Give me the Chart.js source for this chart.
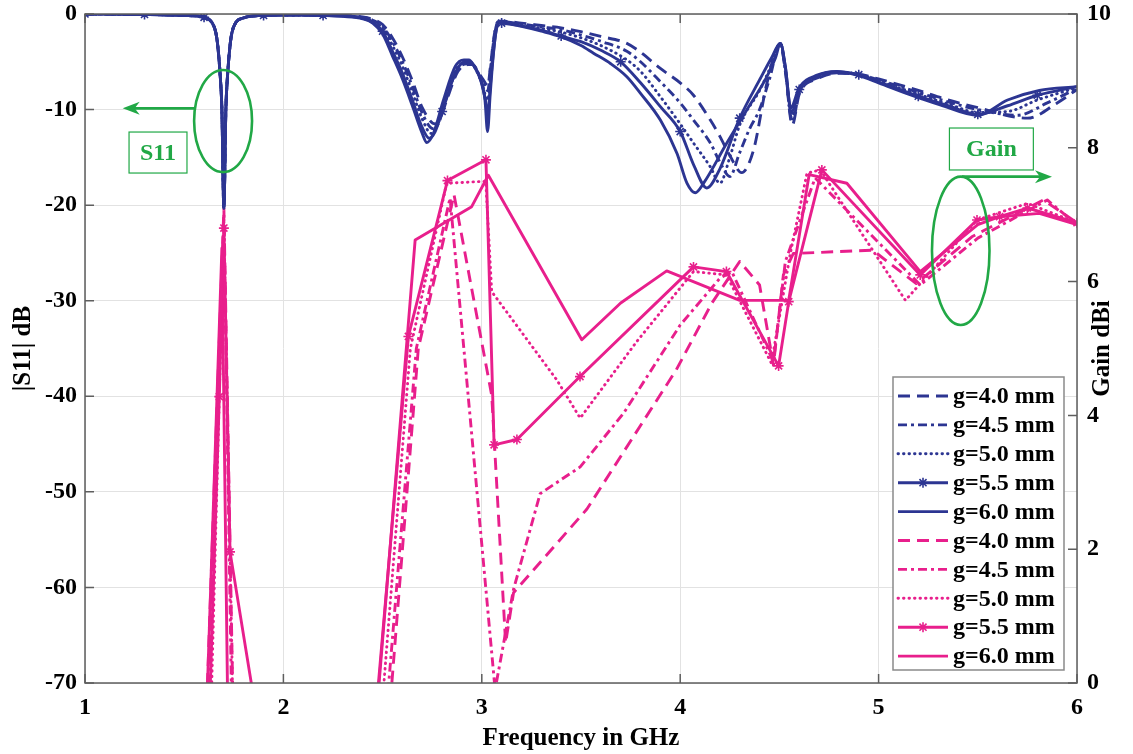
<!DOCTYPE html>
<html>
<head>
<meta charset="utf-8">
<script src="https://cdn.jsdelivr.net/npm/chart.js@4.4.1/dist/chart.umd.min.js"></script>
<style>
html,body{margin:0;padding:0;background:#ffffff;}
#wrap{width:1133px;height:754px;position:relative;}
</style>
</head>
<body>
<div id="wrap"><canvas id="c"></canvas></div>
<script>
// ---------------- DATA ----------------
const xTicks = [1, 2, 3, 4, 5, 6];
const s11Ticks = [0, -10, -20, -30, -40, -50, -60, -70];
const gainTicks = [0, 2, 4, 6, 8, 10];
const seriesLabels = ['g=4.0 mm', 'g=4.5 mm', 'g=5.0 mm', 'g=5.5 mm', 'g=6.0 mm'];
const xTitle = 'Frequency in GHz';
const s11Title = '|S11| dB';
const gainTitle = 'Gain dBi';

// shared low-band notch of |S11| (GHz, dB)
const notchF  = [1.0, 1.3, 1.5, 1.6, 1.64, 1.66, 1.67, 1.68, 1.69, 1.70, 1.71, 1.72, 1.73, 1.74, 1.76, 1.8, 1.9, 2.0, 2.1, 2.2];
const notchDb = [0, -0.05, -0.15, -0.35, -0.9, -2.0, -3.5, -6.0, -10.0, -20.3, -10.0, -6.0, -3.5, -2.0, -0.9, -0.4, -0.15, -0.1, -0.1, -0.15];

// |S11| above 2.2 GHz per gap g
const s11F_40 = [2.3, 2.4, 2.45, 2.5, 2.55, 2.6, 2.65, 2.7, 2.765, 2.79, 2.82, 2.88, 2.93, 2.955, 2.98, 3.005, 3.03, 3.045, 3.06, 3.075, 3.09, 3.1, 3.2, 3.3, 3.4, 3.5, 3.6, 3.731, 3.8, 3.9, 4.0, 4.067, 4.152, 4.2, 4.25, 4.31, 4.37, 4.437, 4.505, 4.53, 4.565, 4.6, 4.69, 4.79, 4.9, 5.0, 5.2, 5.35, 5.5, 5.75, 5.9, 6.0];
const s11D_40 = [-0.15, -0.3, -0.55, -1.1, -2.5, -4.5, -7.0, -9.8, -11.5, -11.0, -9.2, -6.0, -5.3, -5.3, -6.0, -6.8, -7.5, -5.2, -2.6, -1.0, -0.75, -0.75, -0.95, -1.2, -1.45, -1.85, -2.35, -3.07, -4.0, -5.7, -7.2, -8.5, -11.1, -12.8, -14.8, -16.6, -14.2, -7.25, -3.07, -6.0, -11.6, -8.4, -6.8, -6.2, -6.3, -6.8, -8.0, -9.0, -9.8, -10.9, -9.3, -7.9];

const s11F_45 = [2.3, 2.4, 2.45, 2.5, 2.55, 2.6, 2.65, 2.7, 2.755, 2.785, 2.815, 2.875, 2.925, 2.95, 2.975, 3.0, 3.03, 3.045, 3.06, 3.075, 3.09, 3.1, 3.2, 3.3, 3.4, 3.5, 3.6, 3.731, 3.8, 3.9, 4.0, 4.067, 4.152, 4.2, 4.25, 4.3, 4.35, 4.4, 4.45, 4.505, 4.53, 4.565, 4.6, 4.69, 4.79, 4.9, 5.0, 5.2, 5.35, 5.5, 5.7, 5.85, 6.0];
const s11D_45 = [-0.18, -0.35, -0.65, -1.3, -2.9, -5.0, -7.6, -10.4, -12.0, -11.3, -9.2, -5.9, -5.2, -5.2, -5.9, -7.0, -8.0, -5.5, -2.8, -1.1, -0.8, -0.8, -1.05, -1.35, -1.65, -2.2, -2.85, -3.9, -5.0, -7.08, -9.3, -11.1, -13.5, -15.5, -17.0, -14.5, -12.0, -10.0, -6.8, -3.07, -5.9, -11.3, -8.2, -6.7, -6.15, -6.3, -6.9, -8.2, -9.2, -10.0, -10.6, -9.3, -7.8];

const s11F_50 = [2.3, 2.4, 2.45, 2.5, 2.55, 2.6, 2.65, 2.7, 2.745, 2.775, 2.81, 2.87, 2.92, 2.945, 2.97, 3.0, 3.03, 3.045, 3.06, 3.075, 3.09, 3.1, 3.2, 3.3, 3.4, 3.5, 3.6, 3.731, 3.8, 3.9, 4.0, 4.067, 4.152, 4.2, 4.25, 4.3, 4.4, 4.45, 4.505, 4.53, 4.56, 4.6, 4.69, 4.79, 4.9, 5.0, 5.2, 5.35, 5.5, 5.65, 5.8, 6.0];
const s11D_50 = [-0.2, -0.4, -0.75, -1.5, -3.3, -5.5, -8.2, -11.0, -12.5, -11.6, -9.2, -5.8, -5.1, -5.1, -5.8, -7.2, -9.0, -6.0, -3.0, -1.2, -0.85, -0.85, -1.15, -1.5, -1.9, -2.5, -3.3, -4.8, -6.0, -8.65, -11.5, -13.5, -16.0, -17.7, -15.0, -11.6, -8.0, -5.8, -3.07, -5.8, -10.8, -8.0, -6.6, -6.1, -6.3, -7.0, -8.4, -9.4, -10.3, -10.2, -9.0, -7.7];

const s11F_55 = [2.3, 2.4, 2.45, 2.5, 2.55, 2.6, 2.65, 2.7, 2.735, 2.765, 2.8, 2.815, 2.87, 2.915, 2.94, 2.965, 2.995, 3.018, 3.03, 3.043, 3.056, 3.072, 3.087, 3.1, 3.2, 3.3, 3.4, 3.5, 3.6, 3.7, 3.8, 3.9, 4.0, 4.07, 4.134, 4.2, 4.3, 4.4, 4.46, 4.505, 4.53, 4.56, 4.6, 4.69, 4.79, 4.9, 5.0, 5.2, 5.35, 5.5, 5.65, 5.8, 6.0];
const s11D_55 = [-0.22, -0.45, -0.85, -1.8, -3.9, -6.2, -9.0, -11.9, -13.0, -12.3, -10.2, -9.3, -6.0, -5.0, -5.0, -5.6, -7.0, -9.0, -10.5, -7.5, -4.5, -1.8, -0.9, -0.95, -1.25, -1.7, -2.3, -2.9, -3.8, -5.0, -7.2, -9.7, -12.3, -15.9, -18.2, -16.2, -10.9, -6.9, -4.6, -3.07, -5.6, -10.3, -7.9, -6.5, -6.05, -6.35, -7.1, -8.6, -9.6, -10.5, -9.6, -8.5, -7.6];

const s11F_60 = [2.3, 2.4, 2.45, 2.5, 2.55, 2.6, 2.65, 2.7, 2.723, 2.756, 2.807, 2.866, 2.91, 2.935, 2.96, 2.99, 3.016, 3.029, 3.042, 3.055, 3.07, 3.085, 3.1, 3.2, 3.3, 3.4, 3.5, 3.563, 3.65, 3.731, 3.8, 3.9, 3.984, 4.034, 4.076, 4.118, 4.235, 4.337, 4.437, 4.48, 4.505, 4.53, 4.557, 4.6, 4.69, 4.79, 4.89, 5.0, 5.14, 5.31, 5.5, 5.65, 5.81, 6.0];
const s11D_60 = [-0.25, -0.5, -0.95, -2.1, -4.4, -6.8, -9.6, -12.5, -13.45, -12.5, -9.0, -5.5, -4.8, -4.8, -5.4, -6.6, -9.0, -12.3, -8.5, -5.0, -2.0, -0.9, -0.9, -1.3, -1.8, -2.4, -3.3, -4.1, -5.2, -6.56, -8.3, -11.1, -14.6, -17.7, -18.7, -17.7, -13.5, -10.0, -6.56, -4.6, -3.07, -5.5, -9.8, -7.7, -6.4, -6.0, -6.4, -7.2, -8.3, -9.5, -10.6, -9.0, -8.0, -7.6];

// frequencies carrying the star markers of the g=5.5 mm |S11| curve
const s11StarF = [1.0, 1.3, 1.6, 1.9, 2.2, 2.5, 2.8, 3.1, 3.4, 3.7, 4.0, 4.3, 4.6, 4.9, 5.2, 5.5, 5.8];

// Gain (dBi) per gap g, coarse samples
const gainF_40 = [1.0, 1.6, 1.70, 1.75, 2.0, 2.44, 2.68, 2.86, 3.05, 3.12, 3.16, 3.53, 3.98, 4.16, 4.30, 4.40, 4.47, 4.52, 4.57, 4.97, 5.19, 5.47, 5.83, 6.0];
const gainV_40 = [-5, -1.5, 7.1, -1.0, -6, -4, 5.0, 7.3, 4.3, 0.6, 1.35, 2.6, 4.68, 5.68, 6.3, 5.95, 4.75, 6.1, 6.42, 6.47, 5.97, 6.67, 7.22, 6.88];

const gainF_45 = [1.0, 1.61, 1.70, 1.74, 2.0, 2.42, 2.67, 2.84, 3.067, 3.16, 3.294, 3.496, 3.714, 4.0, 4.2, 4.26, 4.47, 4.53, 4.68, 5.21, 5.5, 5.85, 6.0];
const gainV_45 = [-5, -1.0, 7.0, -0.5, -6, -4, 5.0, 7.25, -0.1, 1.4, 2.83, 3.23, 4.03, 5.35, 6.05, 6.15, 4.8, 6.3, 7.55, 5.95, 6.65, 7.22, 6.85];

const gainF_50 = [1.0, 1.63, 1.70, 1.745, 2.0, 2.40, 2.64, 2.823, 3.02, 3.05, 3.378, 3.496, 3.78, 4.067, 4.233, 4.46, 4.555, 4.639, 4.706, 5.135, 5.496, 5.75, 6.0];
const gainV_50 = [-5, -1.0, 6.9, -0.3, -6, -4, 5.0, 7.47, 7.5, 5.85, 4.53, 3.96, 5.1, 6.15, 6.1, 4.78, 6.42, 7.62, 7.67, 5.72, 6.92, 7.17, 6.88];

const gainF_55 = [1.0, 1.60, 1.677, 1.70, 1.731, 1.86, 2.0, 2.45, 2.63, 2.827, 3.021, 3.062, 3.177, 3.495, 4.067, 4.233, 4.496, 4.547, 4.714, 5.21, 5.496, 5.61, 5.75, 6.0];
const gainV_55 = [-5, -3.0, 4.28, 6.8, 1.96, -0.4, -6, -1.0, 5.18, 7.51, 7.82, 3.56, 3.64, 4.58, 6.22, 6.15, 4.74, 5.70, 7.67, 6.10, 6.92, 6.97, 7.1, 6.88];

const gainF_60 = [1.0, 1.60, 1.69, 1.72, 2.0, 2.4, 2.664, 2.949, 3.033, 3.504, 3.70, 3.932, 4.30, 4.547, 4.65, 4.84, 5.21, 5.50, 5.61, 5.81, 6.0];
const gainV_60 = [-5, -1.6, 6.5, -0.5, -6, -3.0, 6.62, 7.12, 7.59, 5.13, 5.68, 6.16, 5.72, 5.72, 7.6, 7.47, 6.15, 6.85, 6.97, 7.02, 6.85];

// ---------------- STYLE ----------------
const BLUE = '#2c3592';
const PINK = '#e81f8c';
const GREEN = '#21a846';
const AXIS = '#5e5e5e';
const FONT = "'Liberation Serif','Times New Roman',serif";
const LW = 2.9;
const dashes = [[12, 7], [9, 4, 3, 4], [0.5, 5], [], []];
const caps = ['butt', 'butt', 'round', 'butt', 'butt'];

const pts = (f, v) => f.map((x, i) => ({x: x, y: v[i]}));

const s11Sets = [[s11F_40, s11D_40], [s11F_45, s11D_45], [s11F_50, s11D_50], [s11F_55, s11D_55], [s11F_60, s11D_60]];
const gainSets = [[gainF_40, gainV_40], [gainF_45, gainV_45], [gainF_50, gainV_50], [gainF_55, gainV_55], [gainF_60, gainV_60]];

const datasets = [];
s11Sets.forEach((s, i) => {
  const star = i === 3;
  datasets.push({
    label: seriesLabels[i],
    data: pts(notchF.concat(s[0]), notchDb.concat(s[1])),
    yAxisID: 'y',
    borderColor: BLUE, backgroundColor: BLUE,
    borderWidth: LW, borderDash: dashes[i], borderCapStyle: caps[i], borderJoinStyle: 'round',
    cubicInterpolationMode: 'monotone',
    pointStyle: 'star',
    pointRadius: star ? (ctx => (ctx.raw && s11StarF.includes(ctx.raw.x)) ? 5 : 0) : 0,
    pointBorderColor: BLUE, pointBorderWidth: 1.6, pointHoverRadius: 0,
    _star: star
  });
});
gainSets.forEach((s, i) => {
  const star = i === 3;
  datasets.push({
    label: seriesLabels[i],
    data: pts(s[0], s[1]),
    yAxisID: 'y1',
    borderColor: PINK, backgroundColor: PINK,
    borderWidth: LW, borderDash: dashes[i], borderCapStyle: caps[i], borderJoinStyle: 'round',
    tension: 0,
    pointStyle: 'star',
    pointRadius: star ? 5 : 0,
    pointBorderColor: PINK, pointBorderWidth: 1.6, pointHoverRadius: 0,
    _star: star
  });
});

// annotation anchors in data units (x: GHz, y: |S11| dB)
const notes = [
  {text: 'S11', ell: [1.696, -11.2, 0.146, 5.34], arrow: [1.55, 1.19, -9.87], box: [1.222, 1.514, -12.35, -16.64]},
  {text: 'Gain', ell: [5.414, -24.78, 0.145, 7.76], arrow: [5.42, 5.874, -17.02], box: [5.357, 5.78, -11.93, -16.32]}
];

function drawStar(ctx, x, y, r) {
  ctx.beginPath();
  for (let k = 0; k < 4; k++) {
    const a = k * Math.PI / 4;
    ctx.moveTo(x - r * Math.cos(a), y - r * Math.sin(a));
    ctx.lineTo(x + r * Math.cos(a), y + r * Math.sin(a));
  }
  ctx.stroke();
}

const overlay = {
  id: 'overlay',
  afterDatasetsDraw(chart) {
    const {ctx, chartArea: a, scales} = chart;
    const xs = scales.x, ys = scales.y, y1 = scales.y1;
    ctx.save();
    // box + inward ticks
    ctx.strokeStyle = AXIS; ctx.lineWidth = 1.5; ctx.setLineDash([]);
    ctx.strokeRect(a.left, a.top, a.right - a.left, a.bottom - a.top);
    ctx.beginPath();
    xTicks.forEach(v => { const p = xs.getPixelForValue(v); ctx.moveTo(p, a.bottom); ctx.lineTo(p, a.bottom - 9); ctx.moveTo(p, a.top); ctx.lineTo(p, a.top + 9); });
    s11Ticks.forEach(v => { const p = ys.getPixelForValue(v); ctx.moveTo(a.left, p); ctx.lineTo(a.left + 9, p); });
    gainTicks.forEach(v => { const p = y1.getPixelForValue(v); ctx.moveTo(a.right, p); ctx.lineTo(a.right - 9, p); });
    ctx.stroke();

    // annotations
    ctx.strokeStyle = GREEN; ctx.fillStyle = GREEN;
    notes.forEach(n => {
      const cx = xs.getPixelForValue(n.ell[0]), cy = ys.getPixelForValue(n.ell[1]);
      const rx = Math.abs(xs.getPixelForValue(n.ell[0] + n.ell[2]) - cx);
      const ry = Math.abs(ys.getPixelForValue(n.ell[1] + n.ell[3]) - cy);
      ctx.lineWidth = 2.6;
      ctx.beginPath(); ctx.ellipse(cx, cy, rx, ry, 0, 0, Math.PI * 2); ctx.stroke();
      const ax0 = xs.getPixelForValue(n.arrow[0]), ax1 = xs.getPixelForValue(n.arrow[1]), ay = ys.getPixelForValue(n.arrow[2]);
      const dir = Math.sign(ax1 - ax0);
      ctx.beginPath(); ctx.moveTo(ax0, ay); ctx.lineTo(ax1 - dir * 8, ay); ctx.stroke();
      ctx.beginPath(); ctx.moveTo(ax1, ay); ctx.lineTo(ax1 - dir * 17, ay - 6.5); ctx.lineTo(ax1 - dir * 12, ay); ctx.lineTo(ax1 - dir * 17, ay + 6.5); ctx.closePath(); ctx.fill();
      const bx0 = xs.getPixelForValue(n.box[0]), bx1 = xs.getPixelForValue(n.box[1]);
      const by0 = ys.getPixelForValue(n.box[2]), by1 = ys.getPixelForValue(n.box[3]);
      ctx.lineWidth = 1.2;
      ctx.strokeRect(bx0, by0, bx1 - bx0, by1 - by0);
      ctx.font = 'bold 24px ' + FONT; ctx.textAlign = 'center'; ctx.textBaseline = 'middle';
      ctx.fillText(n.text, (bx0 + bx1) / 2, (by0 + by1) / 2 + 1);
    });

    // legend
    const rowH = 28.9, lw = 171, lh = 293;
    const lx = a.right - 13 - lw, ly = a.bottom - 13 - lh;
    ctx.fillStyle = '#ffffff'; ctx.fillRect(lx, ly, lw, lh);
    ctx.strokeStyle = '#8a8a8a'; ctx.lineWidth = 1.5; ctx.strokeRect(lx, ly, lw, lh);
    chart.data.datasets.forEach((d, i) => {
      const yy = ly + 19 + i * rowH;
      ctx.strokeStyle = d.borderColor; ctx.lineWidth = d.borderWidth;
      ctx.setLineDash(d.borderDash); ctx.lineCap = d.borderCapStyle;
      ctx.beginPath(); ctx.moveTo(lx + 5, yy); ctx.lineTo(lx + 55, yy); ctx.stroke();
      ctx.setLineDash([]); ctx.lineCap = 'butt';
      if (d._star) { ctx.lineWidth = 1.6; drawStar(ctx, lx + 30, yy, 5); }
      ctx.fillStyle = '#000'; ctx.font = 'bold 24px ' + FONT; ctx.textAlign = 'left'; ctx.textBaseline = 'middle';
      ctx.fillText(d.label, lx + 60, yy + 1);
    });

    // right axis title (reads bottom-to-top)
    ctx.save();
    ctx.translate(1103, (a.top + a.bottom) / 2);
    ctx.rotate(-Math.PI / 2);
    ctx.fillStyle = '#000'; ctx.font = 'bold 25px ' + FONT; ctx.textAlign = 'center'; ctx.textBaseline = 'middle';
    ctx.fillText(gainTitle, 0, 0);
    ctx.restore();
    ctx.restore();
  }
};

const tickFont = {family: FONT, size: 24, weight: 'bold', lineHeight: 1.0};
const titleFont = {family: FONT, size: 25, weight: 'bold', lineHeight: 1.2};
const noVPad = s => { s.paddingTop = 0; s.paddingBottom = 0; };

new Chart(document.getElementById('c'), {
  type: 'line',
  data: {datasets: datasets},
  options: {
    responsive: true, maintainAspectRatio: false, devicePixelRatio: 1, animation: false,
    layout: {padding: {top: 14, left: 0, right: 0, bottom: 0}},
    plugins: {legend: {display: false}, tooltip: {enabled: false}},
    events: [],
    scales: {
      x: {
        type: 'linear', min: 1, max: 6,
        afterBuildTicks: s => { s.ticks = xTicks.map(v => ({value: v})); },
        afterFit: s => { s.height = 71; },
        grid: {color: '#e2e2e2', lineWidth: 1, drawTicks: false},
        border: {display: false},
        ticks: {font: tickFont, color: '#000', padding: 13, maxRotation: 0},
        title: {display: true, text: xTitle, font: titleFont, color: '#000', padding: {top: 0, bottom: 0}}
      },
      y: {
        type: 'linear', position: 'left', min: -70, max: 0,
        afterBuildTicks: s => { s.ticks = s11Ticks.map(v => ({value: v})); },
        afterFit: s => { s.width = 85; noVPad(s); },
        grid: {color: '#e2e2e2', lineWidth: 1, drawTicks: false},
        border: {display: false},
        ticks: {font: tickFont, color: '#000', padding: 8},
        title: {display: true, text: s11Title, font: titleFont, color: '#000', padding: {top: 9, bottom: 0}}
      },
      y1: {
        type: 'linear', position: 'right', min: 0, max: 10,
        afterBuildTicks: s => { s.ticks = gainTicks.map(v => ({value: v})); },
        afterFit: s => { s.width = 56; noVPad(s); },
        grid: {drawOnChartArea: false, drawTicks: false},
        border: {display: false},
        ticks: {font: tickFont, color: '#000', padding: 10}
      }
    }
  },
  plugins: [overlay]
});
</script>
</body>
</html>
